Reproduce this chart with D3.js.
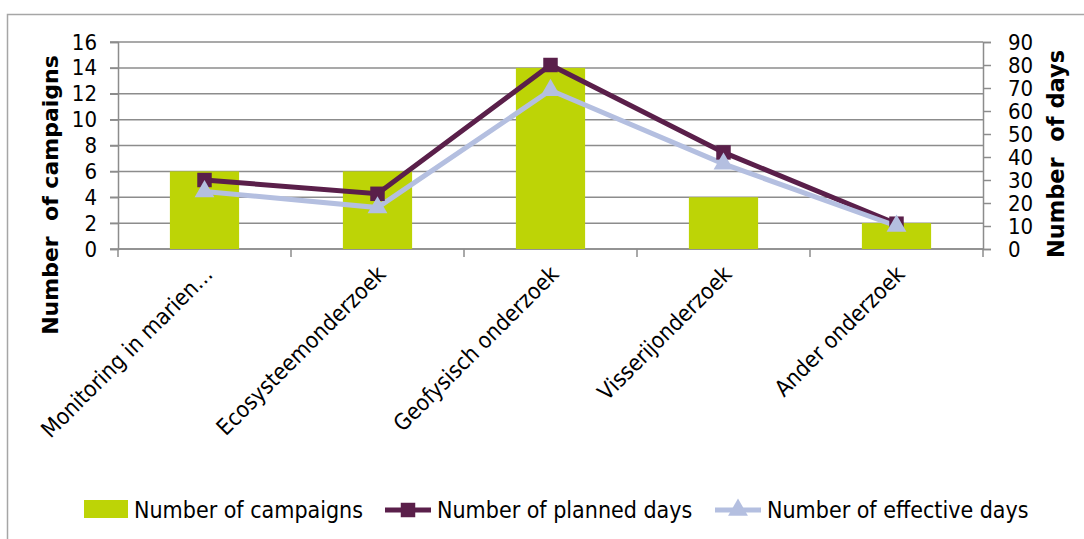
<!DOCTYPE html>
<html>
<head>
<meta charset="utf-8">
<script src="https://d3js.org/d3.v7.min.js"></script>
<style>
  body { margin: 0; background: #fff; }
  text { font-family: "DejaVu Sans Condensed", "DejaVu Sans", sans-serif; fill: #000; }
</style>
</head>
<body>
<div id="chart"></div>
<script>
// chart values
var categories = ["Monitoring in marien\u2026", "Ecosysteemonderzoek", "Geofysisch onderzoek", "Visserijonderzoek", "Ander onderzoek"];
var campaigns = [6, 6, 14, 4, 2];
var plannedDays = [30, 24, 80, 42, 11];
var effectiveDays = [25, 18, 69, 37, 10];
var leftTicks = [0, 2, 4, 6, 8, 10, 12, 14, 16];
var rightTicks = [0, 10, 20, 30, 40, 50, 60, 70, 80, 90];
var seriesNames = ["Number of campaigns", "Number of planned days", "Number of effective days"];

var width = 1084, height = 539;
var margin = {top: 42, right: 101, bottom: 290, left: 118};
var plotW = width - margin.left - margin.right;
var plotH = height - margin.top - margin.bottom;

var barColor = "#bdd406", plannedColor = "#5a1f4a", effColor = "#b4bfe0", gridColor = "#8c8c8c";

var svg = d3.select("#chart").append("svg")
    .attr("width", width)
    .attr("height", height);

// outer chart frame
svg.append("rect")
    .attr("x", 7.5).attr("y", 14.5)
    .attr("width", width + 10).attr("height", height + 10)
    .attr("fill", "none").attr("stroke", "#a6a6a6").attr("stroke-width", 1.5);

var g = svg.append("g").attr("transform", "translate(" + margin.left + "," + margin.top + ")");

var x = d3.scaleBand().domain(categories).range([0, plotW]);
var yL = d3.scaleLinear().domain([0, 16]).range([plotH, 0]);
var yR = d3.scaleLinear().domain([0, 90]).range([plotH, 0]);

// gridlines
g.selectAll("line.grid").data(leftTicks).enter().append("line")
    .attr("class", "grid")
    .attr("x1", -8).attr("x2", plotW)
    .attr("y1", function(d){ return yL(d); })
    .attr("y2", function(d){ return yL(d); })
    .attr("stroke", gridColor).attr("stroke-width", 1.5);

// left axis
var leftAxis = g.append("g")
    .call(d3.axisLeft(yL).tickValues(leftTicks).tickSize(8).tickPadding(13));
leftAxis.select(".domain").attr("stroke", gridColor).attr("stroke-width", 1.5);
leftAxis.selectAll(".tick line").attr("stroke", gridColor).attr("stroke-width", 1.5);
leftAxis.selectAll("text").style("font-size", "22px");

// right axis
var rightAxis = g.append("g").attr("transform", "translate(" + plotW + ",0)")
    .call(d3.axisRight(yR).tickValues(rightTicks).tickSize(8).tickPadding(17));
rightAxis.select(".domain").attr("stroke", gridColor).attr("stroke-width", 1.5);
rightAxis.selectAll(".tick line").attr("stroke", gridColor).attr("stroke-width", 1.5);
rightAxis.selectAll("text").style("font-size", "22px");

// bottom axis ticks at category boundaries
var bounds = d3.range(categories.length + 1).map(function(i){ return i * x.step(); });
g.append("line")
    .attr("x1", 0).attr("x2", plotW).attr("y1", plotH).attr("y2", plotH)
    .attr("stroke", gridColor).attr("stroke-width", 1.5);
g.selectAll("line.xtick").data(bounds).enter().append("line")
    .attr("class", "xtick")
    .attr("x1", function(d){ return d; }).attr("x2", function(d){ return d; })
    .attr("y1", plotH).attr("y2", plotH + 8)
    .attr("stroke", gridColor).attr("stroke-width", 1.5);

// category labels
g.selectAll("text.xlab").data(categories).enter().append("text")
    .attr("class", "xlab")
    .attr("transform", function(d){
        return "translate(" + (x(d) + x.bandwidth() / 2 + 4) + "," + (plotH + 21) + ") rotate(-45)";
    })
    .attr("text-anchor", "end")
    .attr("dy", "0.35em")
    .style("font-size", "22.5px")
    .text(function(d){ return d; });

// bars
var barW = x.bandwidth() * 0.4;
g.selectAll("rect.bar").data(campaigns).enter().append("rect")
    .attr("class", "bar")
    .attr("x", function(d, i){ return x(categories[i]) + (x.bandwidth() - barW) / 2; })
    .attr("y", function(d){ return yL(d); })
    .attr("width", barW)
    .attr("height", function(d){ return plotH - yL(d); })
    .attr("fill", barColor);

var cx = function(d, i){ return x(categories[i]) + x.bandwidth() / 2; };
var line = d3.line().x(cx).y(function(d){ return yR(d); });

// planned days line
g.append("path").datum(plannedDays)
    .attr("d", line).attr("fill", "none")
    .attr("stroke", plannedColor).attr("stroke-width", 5);
// effective days line
g.append("path").datum(effectiveDays)
    .attr("d", line).attr("fill", "none")
    .attr("stroke", effColor).attr("stroke-width", 5);

var square = d3.symbol().type(d3.symbolSquare).size(210);
var tri = d3.symbol().type(d3.symbolTriangle).size(170);

g.selectAll("path.sq").data(plannedDays).enter().append("path")
    .attr("class", "sq")
    .attr("d", square)
    .attr("transform", function(d, i){ return "translate(" + cx(d, i) + "," + yR(d) + ")"; })
    .attr("fill", plannedColor);

g.selectAll("path.tri").data(effectiveDays).enter().append("path")
    .attr("class", "tri")
    .attr("d", tri)
    .attr("transform", function(d, i){ return "translate(" + cx(d, i) + "," + yR(d) + ")"; })
    .attr("fill", effColor);

// axis titles
svg.append("text")
    .attr("transform", "translate(58,195) rotate(-90)")
    .attr("text-anchor", "middle")
    .style("font-size", "22px").style("font-weight", "bold")
    .style("font-family", "'DejaVu Sans', sans-serif")
    .attr("xml:space", "preserve")
    .text("Number  of campaigns");

svg.append("text")
    .attr("transform", "translate(1064,154) rotate(-90)")
    .attr("text-anchor", "middle")
    .style("font-size", "22.5px").style("font-weight", "bold")
    .style("font-family", "'DejaVu Sans', sans-serif")
    .attr("xml:space", "preserve")
    .text("Number  of days");

// legend
var leg = svg.append("g").attr("transform", "translate(0,510)");
leg.append("rect").attr("x", 84).attr("y", -10).attr("width", 44).attr("height", 18).attr("fill", barColor);
leg.append("text").attr("x", 134).attr("y", 0).attr("dy", "0.35em").style("font-size", "23px").text(seriesNames[0]);

leg.append("line").attr("x1", 385).attr("x2", 431).attr("y1", 0).attr("y2", 0)
    .attr("stroke", plannedColor).attr("stroke-width", 5);
leg.append("path").attr("d", square).attr("transform", "translate(408,0)").attr("fill", plannedColor);
leg.append("text").attr("x", 437).attr("y", 0).attr("dy", "0.35em").style("font-size", "23px").text(seriesNames[1]);

leg.append("line").attr("x1", 715).attr("x2", 761).attr("y1", 0).attr("y2", 0)
    .attr("stroke", effColor).attr("stroke-width", 5);
leg.append("path").attr("d", tri).attr("transform", "translate(738,0)").attr("fill", effColor);
leg.append("text").attr("x", 767).attr("y", 0).attr("dy", "0.35em").style("font-size", "23px").text(seriesNames[2]);
</script>
</body>
</html>
